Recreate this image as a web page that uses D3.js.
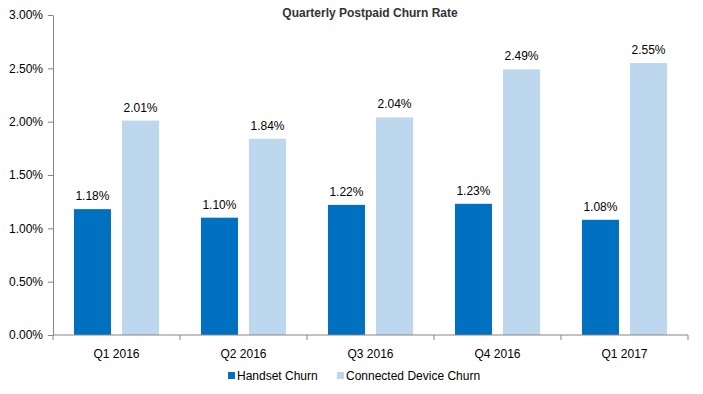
<!DOCTYPE html>
<html>
<head>
<meta charset="utf-8">
<script src="https://cdn.jsdelivr.net/npm/d3@7"></script>
<style>
  body { margin: 0; background: #fff; }
  text { font-family: "Liberation Sans", Arial, sans-serif; }
</style>
</head>
<body>
<script>
const quarters = ["Q1 2016", "Q2 2016", "Q3 2016", "Q4 2016", "Q1 2017"];
const handsetChurn = [1.18, 1.10, 1.22, 1.23, 1.08];
const connectedChurn = [2.01, 1.84, 2.04, 2.49, 2.55];
const seriesNames = ["Handset Churn", "Connected Device Churn"];
const yTicks = [0, 0.5, 1, 1.5, 2, 2.5, 3];

const width = 703;
const height = 394;
const marginLeft = 53;
const marginRight = 15;
const marginTop = 15;
const plotBottom = 335;
const colors = ["#0070c0", "#bdd7ee"];

const svg = d3
  .select("body")
  .append("svg")
  .attr("width", width)
  .attr("height", height);

const xScale = d3
  .scaleBand()
  .domain(quarters)
  .range([marginLeft, width - marginRight]);

const yScale = d3
  .scaleLinear()
  .domain([0, 3])
  .range([plotBottom, marginTop]);

// inner scale for the two series in each quarter
const bw = xScale.bandwidth();
const inner = d3
  .scaleBand()
  .domain([0, 1])
  .range([bw * 0.165, bw * 0.835])
  .paddingInner(0.23);

// title
svg.append("text")
  .attr("x", 370)
  .attr("y", 17)
  .attr("text-anchor", "middle")
  .attr("font-size", 12)
  .attr("font-weight", "bold")
  .attr("fill", "#333")
  .text("Quarterly Postpaid Churn Rate");

// bars
const series = [handsetChurn, connectedChurn];
series.forEach(function(values, s) {
  const g = svg.append("g");
  g.selectAll("rect")
    .data(values)
    .enter()
    .append("rect")
    .attr("x", function(d, i) { return xScale(quarters[i]) + inner(s); })
    .attr("y", function(d) { return yScale(d); })
    .attr("width", inner.bandwidth())
    .attr("height", function(d) { return plotBottom - yScale(d); })
    .attr("fill", colors[s]);

  g.selectAll("text")
    .data(values)
    .enter()
    .append("text")
    .attr("x", function(d, i) { return xScale(quarters[i]) + inner(s) + inner.bandwidth() / 2; })
    .attr("y", function(d) { return yScale(d) - 9; })
    .attr("text-anchor", "middle")
    .attr("font-size", 12)
    .attr("fill", "#000")
    .text(function(d) { return d.toFixed(2) + "%"; });
});

// y axis
const yAxis = d3.axisLeft(yScale)
  .tickValues(yTicks)
  .tickSize(5)
  .tickSizeOuter(0)
  .tickFormat(function(d) { return d.toFixed(2) + "%"; });

const yg = svg.append("g")
  .attr("transform", `translate(${marginLeft}, 0)`)
  .call(yAxis);
yg.select(".domain").attr("stroke", "#868686");
yg.selectAll(".tick line").attr("stroke", "#868686");
yg.selectAll(".tick text")
  .attr("font-size", 12)
  .attr("fill", "#000")
  .attr("x", -10)
  .style("font-family", "Liberation Sans, Arial, sans-serif");

// x axis with ticks between categories
const xg = svg.append("g")
  .attr("transform", `translate(0, ${plotBottom})`);
xg.append("line")
  .attr("x1", marginLeft)
  .attr("x2", width - marginRight)
  .attr("stroke", "#868686");
xg.selectAll(".sep")
  .data(quarters.concat(["end"]))
  .enter()
  .append("line")
  .attr("x1", function(d, i) { return marginLeft + i * bw; })
  .attr("x2", function(d, i) { return marginLeft + i * bw; })
  .attr("y1", 0)
  .attr("y2", 5)
  .attr("stroke", "#868686");
xg.selectAll(".lbl")
  .data(quarters)
  .enter()
  .append("text")
  .attr("x", function(d) { return xScale(d) + bw / 2; })
  .attr("y", 23)
  .attr("text-anchor", "middle")
  .attr("font-size", 12)
  .attr("fill", "#000")
  .text(function(d) { return d; });

// legend
const legendX = [228, 337];
const legend = svg.append("g");
seriesNames.forEach(function(name, i) {
  legend.append("rect")
    .attr("x", legendX[i])
    .attr("y", 372)
    .attr("width", 7)
    .attr("height", 7)
    .attr("fill", colors[i]);
  legend.append("text")
    .attr("x", legendX[i] + 9)
    .attr("y", 380)
    .attr("font-size", 12)
    .attr("fill", "#000")
    .text(name);
});
</script>
</body>
</html>
